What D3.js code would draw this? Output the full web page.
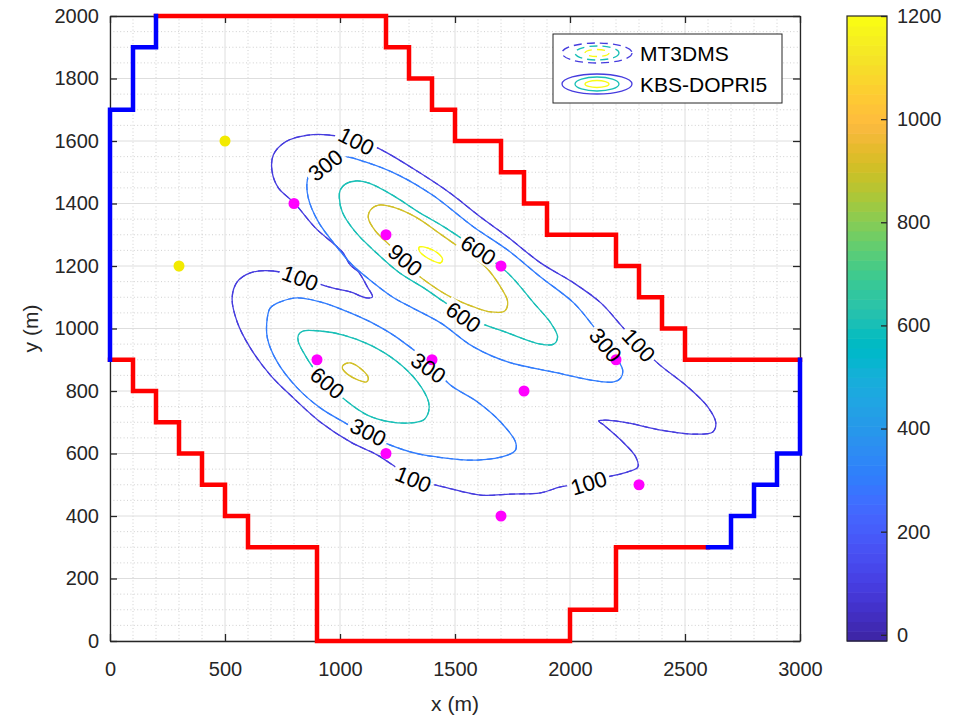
<!DOCTYPE html>
<html>
<head>
<meta charset="utf-8">
<script src="https://cdn.jsdelivr.net/npm/d3@7"></script>
<style>
  body { margin: 0; background: #fff; }
  svg text { font-family: "Liberation Sans", Arial, Helvetica, sans-serif; }
</style>
</head>
<body>
<svg id="chart" width="954" height="723"></svg>
<script>
// ---------- tick values ----------
const xTickValues = [0, 500, 1000, 1500, 2000, 2500, 3000];
const yTickValues = [0, 200, 400, 600, 800, 1000, 1200, 1400, 1600, 1800, 2000];
const colorTickValues = [0, 200, 400, 600, 800, 1000, 1200];
const colorRange = [-12, 1200];

// ---------- model boundary (m) ----------
const redBoundaryTop = [[200,2000],[1200,2000],[1200,1900],[1300,1900],[1300,1800],[1400,1800],[1400,1700],[1500,1700],[1500,1600],[1700,1600],[1700,1500],[1800,1500],[1800,1400],[1900,1400],[1900,1300],[2200,1300],[2200,1200],[2300,1200],[2300,1100],[2400,1100],[2400,1000],[2500,1000],[2500,900],[3000,900]];
const blueBoundaryRight = [[3000,900],[3000,600],[2900,600],[2900,500],[2800,500],[2800,400],[2700,400],[2700,300],[2600,300]];
const redBoundaryBottom = [[2600,300],[2200,300],[2200,100],[2000,100],[2000,0],[900,0],[900,300],[600,300],[600,400],[500,400],[500,500],[400,500],[400,600],[300,600],[300,700],[200,700],[200,800],[100,800],[100,900],[0,900]];
const blueBoundaryLeft = [[0,900],[0,1700],[100,1700],[100,1900],[200,1900],[200,2000]];

// ---------- wells (m) ----------
const magentaWells = [[800,1400],[1200,1300],[1700,1200],[900,900],[1400,900],[2200,900],[1800,800],[1200,600],[2300,500],[1700,400]];
const yellowWells = [[500,1600],[300,1200]];

// ---------- concentration isolines (x, y in m) ----------
const contour100 = [[710,1555],[762,1597],[862,1619],[988,1616],[1071,1600],[1154,1581],[1197,1565],[1328,1507],[1472,1437],[1611,1357],[1729,1293],[1872,1210],[2016,1146],[2134,1082],[2221,1011],[2299,947],[2386,886],[2512,813],[2599,749],[2634,698],[2621,669],[2539,662],[2395,675],[2251,698],[2155,707],[2125,704],[2147,691],[2221,643],[2286,589],[2295,557],[2251,541],[2147,522],[2081,506],[1959,493],[1872,474],[1742,470],[1611,467],[1467,490],[1319,522],[1163,595],[1045,637],[914,701],[797,778],[697,851],[610,938],[553,1021],[531,1098],[553,1149],[610,1178],[710,1184],[827,1162],[967,1130],[1045,1117],[1115,1098],[1141,1101],[1119,1133],[1080,1181],[1045,1203],[1010,1245],[893,1322],[801,1402],[732,1450],[705,1501]];
const contour300Upper = [[858,1475],[880,1514],[949,1539],[1023,1549],[1110,1533],[1254,1491],[1402,1427],[1581,1325],[1729,1251],[1872,1165],[2016,1082],[2090,1018],[2155,954],[2208,899],[2229,867],[2221,842],[2190,829],[2090,835],[1946,858],[1729,893],[1581,941],[1437,1018],[1315,1066],[1228,1101],[1141,1149],[1054,1203],[980,1267],[906,1341],[862,1418]];
const contour300Lower = [[684,1034],[697,1066],[740,1085],[814,1098],[914,1085],[1015,1059],[1132,1021],[1250,970],[1398,883],[1480,819],[1598,765],[1698,701],[1763,637],[1763,611],[1729,595],[1598,579],[1450,586],[1306,605],[1119,659],[1015,701],[914,746],[814,810],[727,893],[684,970]];
const contour600Upper = [[1001,1443],[1023,1462],[1067,1472],[1123,1466],[1228,1427],[1341,1373],[1459,1322],[1581,1261],[1729,1178],[1842,1082],[1916,1018],[1946,973],[1929,950],[1872,950],[1729,986],[1581,1027],[1459,1082],[1372,1126],[1254,1181],[1154,1245],[1067,1309],[1010,1373],[997,1418]];
const contour600Lower = [[819,979],[840,992],[914,992],[1015,979],[1132,947],[1250,893],[1337,829],[1385,765],[1385,733],[1363,707],[1306,698],[1219,701],[1119,723],[1023,771],[945,826],[884,874],[840,925],[819,957]];
const contour900Upper = [[1132,1379],[1167,1395],[1228,1389],[1328,1357],[1437,1302],[1546,1245],[1633,1197],[1698,1133],[1729,1085],[1716,1056],[1655,1053],[1581,1069],[1480,1101],[1372,1152],[1284,1206],[1228,1258],[1154,1312],[1123,1354]];
const contour900Lower = [[1015,883],[1045,890],[1097,867],[1123,842],[1115,829],[1080,835],[1032,854],[1010,874]];
const contour1200Upper = [[1345,1261],[1380,1258],[1424,1242],[1446,1222],[1437,1210],[1406,1216],[1367,1232],[1345,1248]];

const isolines = [
  { level: 100,  points: contour100 },
  { level: 300,  points: contour300Upper },
  { level: 300,  points: contour300Lower },
  { level: 600,  points: contour600Upper },
  { level: 600,  points: contour600Lower },
  { level: 900,  points: contour900Upper },
  { level: 900,  points: contour900Lower },
  { level: 1200, points: contour1200Upper }
];

// inline isoline labels: level, position (m), text angle (deg)
const isolineLabels = [
  { level: 100, x: 1071, y: 1600, angle: 27 },
  { level: 100, x: 827,  y: 1162, angle: 20 },
  { level: 100, x: 2299, y: 947,  angle: 47 },
  { level: 100, x: 2081, y: 506,  angle: -17 },
  { level: 100, x: 1319, y: 518,  angle: 22 },
  { level: 300, x: 936,  y: 1523, angle: -38 },
  { level: 300, x: 2155, y: 947,  angle: 50 },
  { level: 300, x: 1123, y: 669,  angle: 27 },
  { level: 300, x: 1385, y: 874,  angle: 35 },
  { level: 600, x: 1602, y: 1251, angle: 33 },
  { level: 600, x: 1537, y: 1037, angle: 35 },
  { level: 600, x: 945,  y: 826,  angle: 40 },
  { level: 900, x: 1284, y: 1219, angle: 40 }
];

const legendEntries = ["MT3DMS", "KBS-DOPRI5"];

// parula colormap, 64 entries
const parula = [[0.2422,0.1504,0.6603],[0.2504,0.1650,0.7076],[0.2578,0.1818,0.7511],[0.2647,0.1978,0.7952],[0.2706,0.2147,0.8364],[0.2751,0.2342,0.8710],[0.2783,0.2559,0.8991],[0.2803,0.2782,0.9221],[0.2813,0.3006,0.9414],[0.2810,0.3228,0.9579],[0.2795,0.3447,0.9717],[0.2760,0.3667,0.9829],[0.2699,0.3892,0.9906],[0.2602,0.4123,0.9952],[0.2440,0.4358,0.9988],[0.2206,0.4603,0.9973],[0.1963,0.4847,0.9892],[0.1834,0.5074,0.9798],[0.1786,0.5289,0.9682],[0.1764,0.5499,0.9520],[0.1687,0.5703,0.9359],[0.1540,0.5902,0.9218],[0.1460,0.6091,0.9079],[0.1380,0.6276,0.8973],[0.1248,0.6459,0.8883],[0.1113,0.6635,0.8763],[0.0952,0.6798,0.8598],[0.0689,0.6948,0.8394],[0.0297,0.7082,0.8163],[0.0036,0.7203,0.7917],[0.0067,0.7312,0.7660],[0.0433,0.7411,0.7394],[0.0964,0.7500,0.7120],[0.1408,0.7584,0.6842],[0.1717,0.7670,0.6554],[0.1938,0.7758,0.6251],[0.2161,0.7843,0.5923],[0.2470,0.7918,0.5567],[0.2906,0.7973,0.5188],[0.3406,0.8008,0.4789],[0.3909,0.8029,0.4354],[0.4456,0.8024,0.3909],[0.5044,0.7993,0.3480],[0.5616,0.7942,0.3045],[0.6174,0.7876,0.2612],[0.6720,0.7793,0.2227],[0.7242,0.7698,0.1910],[0.7738,0.7598,0.1646],[0.8203,0.7498,0.1535],[0.8634,0.7406,0.1596],[0.9035,0.7330,0.1774],[0.9393,0.7288,0.2100],[0.9728,0.7298,0.2394],[0.9956,0.7434,0.2371],[0.9970,0.7659,0.2199],[0.9952,0.7893,0.2028],[0.9892,0.8136,0.1885],[0.9786,0.8386,0.1766],[0.9676,0.8639,0.1643],[0.9610,0.8890,0.1537],[0.9597,0.9135,0.1423],[0.9628,0.9373,0.1265],[0.9691,0.9606,0.1064],[0.9769,0.9839,0.0805]];

// ---------- layout ----------
const plot = { left: 110, right: 800, top: 16, bottom: 641 };
const cbar = { left: 847, right: 887 };
const axisColor = "#262626";
const tickFont = 20;
const labelFont = 22;

const svg = d3.select("#chart");
const x = d3.scaleLinear().domain([0, 3000]).range([plot.left, plot.right]);
const y = d3.scaleLinear().domain([0, 2000]).range([plot.bottom, plot.top]);
const cScale = d3.scaleLinear().domain(colorRange).range([plot.bottom, plot.top]);

const toRgb = c => d3.rgb(c[0] * 255, c[1] * 255, c[2] * 255).formatHex();
function levelColor(v) {
  const n = parula.length;
  let i = Math.floor((v - colorRange[0]) / (colorRange[1] - colorRange[0]) * n);
  i = Math.max(0, Math.min(n - 1, i));
  return toRgb(parula[i]);
}

// ---------- grid ----------
const grid = svg.append("g");
const minorX = d3.range(0, 3001, 100).filter(v => v % 500 !== 0);
const minorY = d3.range(0, 2001, 50).filter(v => v % 200 !== 0);
grid.selectAll(".mx").data(minorX).join("line")
  .attr("x1", d => x(d)).attr("x2", d => x(d))
  .attr("y1", plot.top).attr("y2", plot.bottom)
  .attr("stroke", "#c4c4c4").attr("stroke-width", 0.8).attr("stroke-dasharray", "1,2.4");
grid.selectAll(".my").data(minorY).join("line")
  .attr("y1", d => y(d)).attr("y2", d => y(d))
  .attr("x1", plot.left).attr("x2", plot.right)
  .attr("stroke", "#c4c4c4").attr("stroke-width", 0.8).attr("stroke-dasharray", "1,2.4");
grid.selectAll(".gx").data(xTickValues).join("line")
  .attr("x1", d => x(d)).attr("x2", d => x(d))
  .attr("y1", plot.top).attr("y2", plot.bottom)
  .attr("stroke", "#dedede").attr("stroke-width", 1);
grid.selectAll(".gy").data(yTickValues).join("line")
  .attr("y1", d => y(d)).attr("y2", d => y(d))
  .attr("x1", plot.left).attr("x2", plot.right)
  .attr("stroke", "#dedede").attr("stroke-width", 1);

// ---------- axes (inward ticks, mirrored box) ----------
function styleAxis(g) {
  g.select(".domain").attr("stroke", axisColor).attr("stroke-width", 1.3);
  g.selectAll(".tick line").attr("stroke", axisColor).attr("stroke-width", 1.3);
  g.selectAll(".tick text").attr("fill", axisColor).attr("font-size", tickFont)
    .style("font-family", "'Liberation Sans', Arial, sans-serif");
}
svg.append("g").attr("transform", `translate(0,${plot.bottom})`)
  .call(d3.axisBottom(x).tickValues(xTickValues).tickFormat(d3.format("d"))
    .tickSizeInner(-7).tickSizeOuter(0).tickPadding(21))
  .call(styleAxis);
svg.append("g").attr("transform", `translate(0,${plot.top})`)
  .call(d3.axisTop(x).tickValues(xTickValues).tickFormat("")
    .tickSizeInner(-7).tickSizeOuter(0))
  .call(styleAxis);
svg.append("g").attr("transform", `translate(${plot.left},0)`)
  .call(d3.axisLeft(y).tickValues(yTickValues).tickFormat(d3.format("d"))
    .tickSizeInner(-7).tickSizeOuter(0).tickPadding(11))
  .call(styleAxis);
svg.append("g").attr("transform", `translate(${plot.right},0)`)
  .call(d3.axisRight(y).tickValues(yTickValues).tickFormat("")
    .tickSizeInner(-7).tickSizeOuter(0))
  .call(styleAxis);

svg.append("text").attr("x", (plot.left + plot.right) / 2).attr("y", 711)
  .attr("text-anchor", "middle").attr("font-size", 21).attr("fill", axisColor)
  .text("x (m)");
svg.append("text")
  .attr("transform", `translate(38,${(plot.top + plot.bottom) / 2}) rotate(-90)`)
  .attr("text-anchor", "middle").attr("font-size", 21).attr("fill", axisColor)
  .text("y (m)");

// ---------- isolines ----------
const labelW = s => 0.556 * labelFont * s.length + 6;
const defs = svg.append("defs");
const mask = defs.append("mask").attr("id", "label-gaps")
  .attr("maskUnits", "userSpaceOnUse")
  .attr("x", 0).attr("y", 0).attr("width", 954).attr("height", 723);
mask.append("rect").attr("width", 954).attr("height", 723).attr("fill", "#fff");
mask.selectAll(".gap").data(isolineLabels).join("rect")
  .attr("x", d => -labelW(String(d.level)) / 2).attr("y", -10)
  .attr("width", d => labelW(String(d.level))).attr("height", 20)
  .attr("transform", d => `translate(${x(d.x)},${y(d.y)}) rotate(${d.angle})`)
  .attr("fill", "#000");

const isoPath = d3.line().x(d => x(d[0])).y(d => y(d[1]))
  .curve(d3.curveCatmullRomClosed.alpha(0.5));
const iso = svg.append("g").attr("mask", "url(#label-gaps)").attr("fill", "none");
// MT3DMS (dashed)
iso.selectAll(".mt3d").data(isolines).join("path")
  .attr("d", d => isoPath(d.points))
  .attr("stroke", d => levelColor(d.level))
  .attr("stroke-width", 1.2).attr("stroke-dasharray", "6,4");
// KBS-DOPRI5 (solid)
iso.selectAll(".kbs").data(isolines).join("path")
  .attr("d", d => isoPath(d.points))
  .attr("stroke", d => levelColor(d.level))
  .attr("stroke-width", 1.3);

// ---------- boundaries ----------
const poly = d3.line().x(d => x(d[0])).y(d => y(d[1]));
const bnd = svg.append("g").attr("fill", "none").attr("stroke-width", 4.5)
  .attr("stroke-linejoin", "miter").attr("stroke-linecap", "square");
[[redBoundaryTop, "#ff0000"], [redBoundaryBottom, "#ff0000"],
 [blueBoundaryLeft, "#0000ff"], [blueBoundaryRight, "#0000ff"]].forEach(([pts, col]) => {
  bnd.append("path").attr("d", poly(pts)).attr("stroke", col);
});

// ---------- wells ----------
svg.append("g").selectAll("circle").data(magentaWells).join("circle")
  .attr("cx", d => x(d[0])).attr("cy", d => y(d[1])).attr("r", 5.5)
  .attr("fill", "#ff00ff");
svg.append("g").selectAll("circle").data(yellowWells).join("circle")
  .attr("cx", d => x(d[0])).attr("cy", d => y(d[1])).attr("r", 5.5)
  .attr("fill", "#f2ea00");

// ---------- isoline labels ----------
svg.append("g").selectAll("text").data(isolineLabels).join("text")
  .attr("transform", d => `translate(${x(d.x)},${y(d.y)}) rotate(${d.angle})`)
  .attr("text-anchor", "middle").attr("dy", "0.36em")
  .attr("font-size", labelFont).attr("fill", "#000")
  .text(d => d.level);

// ---------- legend ----------
const lg = svg.append("g");
lg.append("rect").attr("x", 553).attr("y", 34).attr("width", 229).attr("height", 69)
  .attr("fill", "#fff").attr("stroke", axisColor).attr("stroke-width", 1);
const legendLevels = [100, 600, 1200];
const legendRadii = [[35, 10], [22, 7], [12, 3.5]];
legendEntries.forEach((name, i) => {
  const cy = 53 + i * 31;
  legendLevels.forEach((lv, k) => {
    lg.append("ellipse").attr("cx", 597).attr("cy", cy)
      .attr("rx", legendRadii[k][0]).attr("ry", legendRadii[k][1])
      .attr("fill", "none").attr("stroke", levelColor(lv)).attr("stroke-width", 1.3)
      .attr("stroke-dasharray", i === 0 ? "8,5" : null);
  });
  lg.append("text").attr("x", 640).attr("y", cy).attr("dy", "0.36em")
    .attr("font-size", 21).attr("fill", "#000").text(name);
});

// ---------- colorbar ----------
const cb = svg.append("g");
const nC = parula.length;
const step = (colorRange[1] - colorRange[0]) / nC;
cb.selectAll("rect.band").data(parula).join("rect")
  .attr("x", cbar.left).attr("width", cbar.right - cbar.left)
  .attr("y", (d, i) => cScale(colorRange[0] + (i + 1) * step))
  .attr("height", (d, i) => cScale(colorRange[0] + i * step) - cScale(colorRange[0] + (i + 1) * step) + 0.6)
  .attr("fill", d => toRgb(d));
cb.append("rect").attr("x", cbar.left).attr("y", plot.top)
  .attr("width", cbar.right - cbar.left).attr("height", plot.bottom - plot.top)
  .attr("fill", "none").attr("stroke", axisColor).attr("stroke-width", 1.2);
cb.append("g").attr("transform", `translate(${cbar.right},0)`)
  .call(d3.axisRight(cScale).tickValues(colorTickValues).tickFormat(d3.format("d"))
    .tickSizeInner(-6).tickSizeOuter(0).tickPadding(10))
  .call(g => g.select(".domain").remove())
  .call(g => g.selectAll(".tick line").attr("stroke", axisColor).attr("stroke-width", 1.3))
  .call(g => g.selectAll(".tick text").attr("fill", axisColor).attr("font-size", tickFont)
    .style("font-family", "'Liberation Sans', Arial, sans-serif"));
</script>
</body>
</html>
